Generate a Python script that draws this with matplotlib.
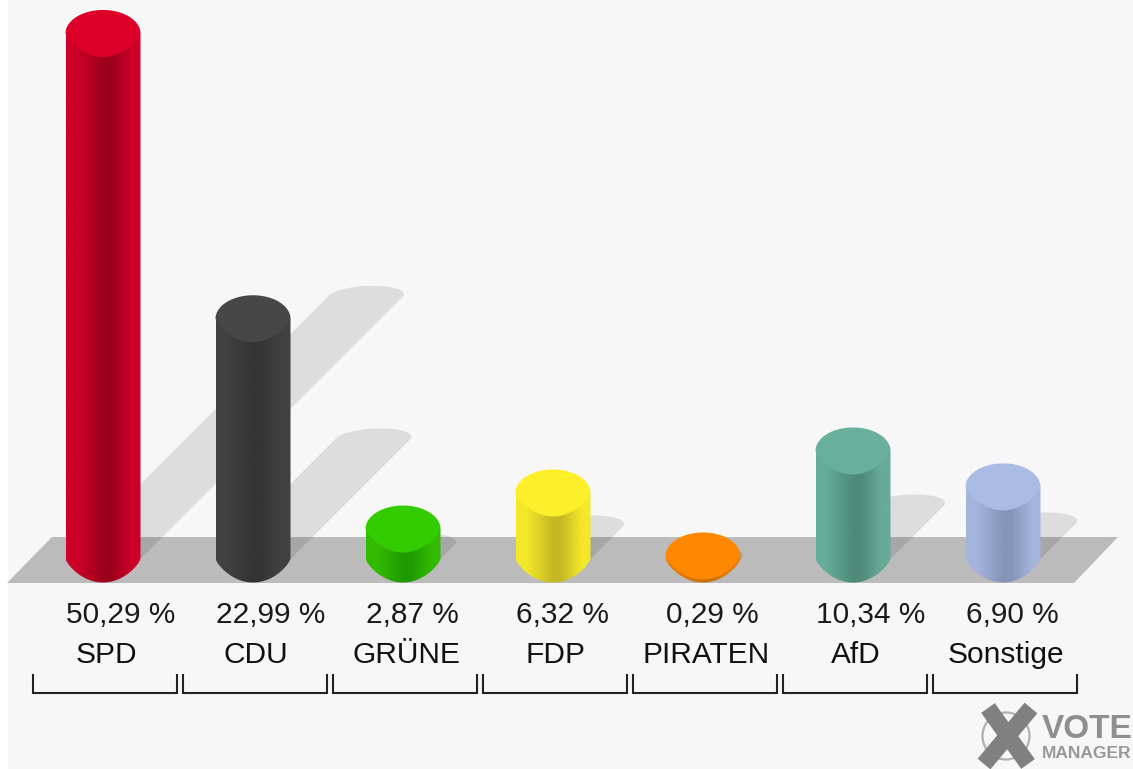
import matplotlib
matplotlib.use('Agg')
import matplotlib.pyplot as plt
from matplotlib.colors import LinearSegmentedColormap
from matplotlib.patches import Polygon, Rectangle, Ellipse, PathPatch
from matplotlib.path import Path
from matplotlib.transforms import Affine2D
import numpy as np

parties = ['SPD', 'CDU', 'GRÜNE', 'FDP', 'PIRATEN', 'AfD', 'Sonstige']
values = [50.29, 22.99, 2.87, 6.32, 0.29, 10.34, 6.90]
value_labels = ['50,29 %', '22,99 %', '2,87 %', '6,32 %', '0,29 %', '10,34 %', '6,90 %']
cap_colors = ['#dc0028', '#474747', '#33cc00', '#fdf02a', '#ff8800', '#68b09c', '#aabbe4']
side_colors = ['#cc0028', '#414141', '#33bb00', '#f4e82a', '#e87c00', '#66ac98', '#a4b5dc']
dark_colors = ['#9c001c', '#343434', '#1f9a00', '#c4b824', '#c87000', '#4e8a78', '#8694b8']

W, H = 1133, 769
BG = '#f7f7f7'
scale = 10.45  # pixels per percent
rx = 0.25   # half width of a cylinder, in category units
ry = 23.5 / scale   # half height of the ellipse, in percent units
shadow_dx = 0.5 * scale / 150  # sideways shift of the shadow per percent

fig = plt.figure(figsize=(W / 100, H / 100), dpi=100, facecolor=BG)
ax = fig.add_axes([0, 0, 1, 1])
ax.set_axis_off()

# pixel coordinates, for the floor, the brackets and the logo
px = Affine2D().scale(1, -1).translate(0, H)

xlim = (-103 / 150, (W - 103) / 150)
ylim = (-210 / scale, 559 / scale)

ax.add_patch(Rectangle((0, 0), 7, H, transform=px, color='white', zorder=0))
ax.add_patch(Polygon([(52, 537), (1118, 537), (1074, 583), (7, 583)], transform=px,
                     facecolor='#bbbbbb', edgecolor='none', zorder=1))


def upper_arc(x, y, ry_, skew=0.0):
    # left to right over the top
    t = np.linspace(np.pi, 0, 40)
    return np.column_stack([x + rx * np.cos(t) + skew * rx * np.sin(t), y + ry_ * np.sin(t)])


def lower_arc(x, y):
    # left to right under the bottom, a bit more pointed than an ellipse
    s = np.linspace(-1, 1, 40)
    return np.column_stack([x + rx * s, y - ry * (1 - s ** 2) ** 0.8])


# shadows first, they run behind the neighbouring bars
for i, v in enumerate(values):
    top = upper_arc(i + shadow_dx * v, 0.5 * v, 1.0, skew=0.2)
    pts = np.vstack([[(i - rx, 0)], top, [(i + rx, 0)]])
    ax.add_patch(Polygon(pts, facecolor='black', alpha=0.1, edgecolor='none', zorder=2))

for i, v in enumerate(values):
    cmap = LinearSegmentedColormap.from_list('c', [
        (0, side_colors[i]), (0.14, side_colors[i]), (0.5, dark_colors[i]),
        (0.6, dark_colors[i]), (0.88, side_colors[i]), (1, side_colors[i])])
    bottom = lower_arc(i, 0)
    pts = np.vstack([bottom, [(i + rx, v), (i - rx, v)], bottom[:1]])
    body = PathPatch(Path(pts), facecolor='none', edgecolor='none', zorder=3)
    ax.add_patch(body)
    grad = np.linspace(0, 1, 256).reshape(1, -1)
    im = ax.imshow(grad, cmap=cmap, aspect='auto', zorder=3,
                   extent=(i - rx, i + rx, -ry, v + ry))
    im.set_clip_path(body)
    cap = np.vstack([upper_arc(i, v, ry), lower_arc(i, v)[::-1]])
    ax.add_patch(Polygon(cap, facecolor=cap_colors[i], edgecolor='none', zorder=4))
    ax.text(i - rx, -64 / scale, value_labels[i], ha='left', va='baseline', fontsize=21.5,
            family='Liberation Sans', color='#1a1a1a', zorder=5)
    ax.text(i + 0.02, -104 / scale, parties[i], ha='center', va='baseline', fontsize=21.5,
            family='Liberation Sans', color='#111111', zorder=5)
    ax.plot([i - 0.467, i - 0.467, i + 0.493, i + 0.493],
            [-116 / scale, -134 / scale, -134 / scale, -116 / scale],
            color='#222222', lw=1.5, zorder=5, solid_joinstyle='miter')

# logo
ax.add_patch(Ellipse((1006, 736), 47, 47, transform=px, facecolor='none',
                     edgecolor='#b0b0b0', lw=1.6, zorder=5))
ax.plot([988, 1028], [708, 764], transform=px, color='#808080', lw=12,
        solid_capstyle='butt', zorder=6)
ax.plot([1031, 984], [708, 764], transform=px, color='#808080', lw=12,
        solid_capstyle='butt', zorder=6)
ax.text(1042, 738, 'VOTE', transform=px, fontsize=24, fontweight='bold',
        family='Liberation Sans', color='#8f8f8f', ha='left', va='baseline', zorder=6)
ax.text(1042, 758, 'MANAGER', transform=px, fontsize=12.5, fontweight='bold',
        family='Liberation Sans', color='#989898', ha='left', va='baseline', zorder=6)

ax.set_xlim(xlim)
ax.set_ylim(ylim)

fig.savefig('out.png', dpi=100, facecolor=BG)
